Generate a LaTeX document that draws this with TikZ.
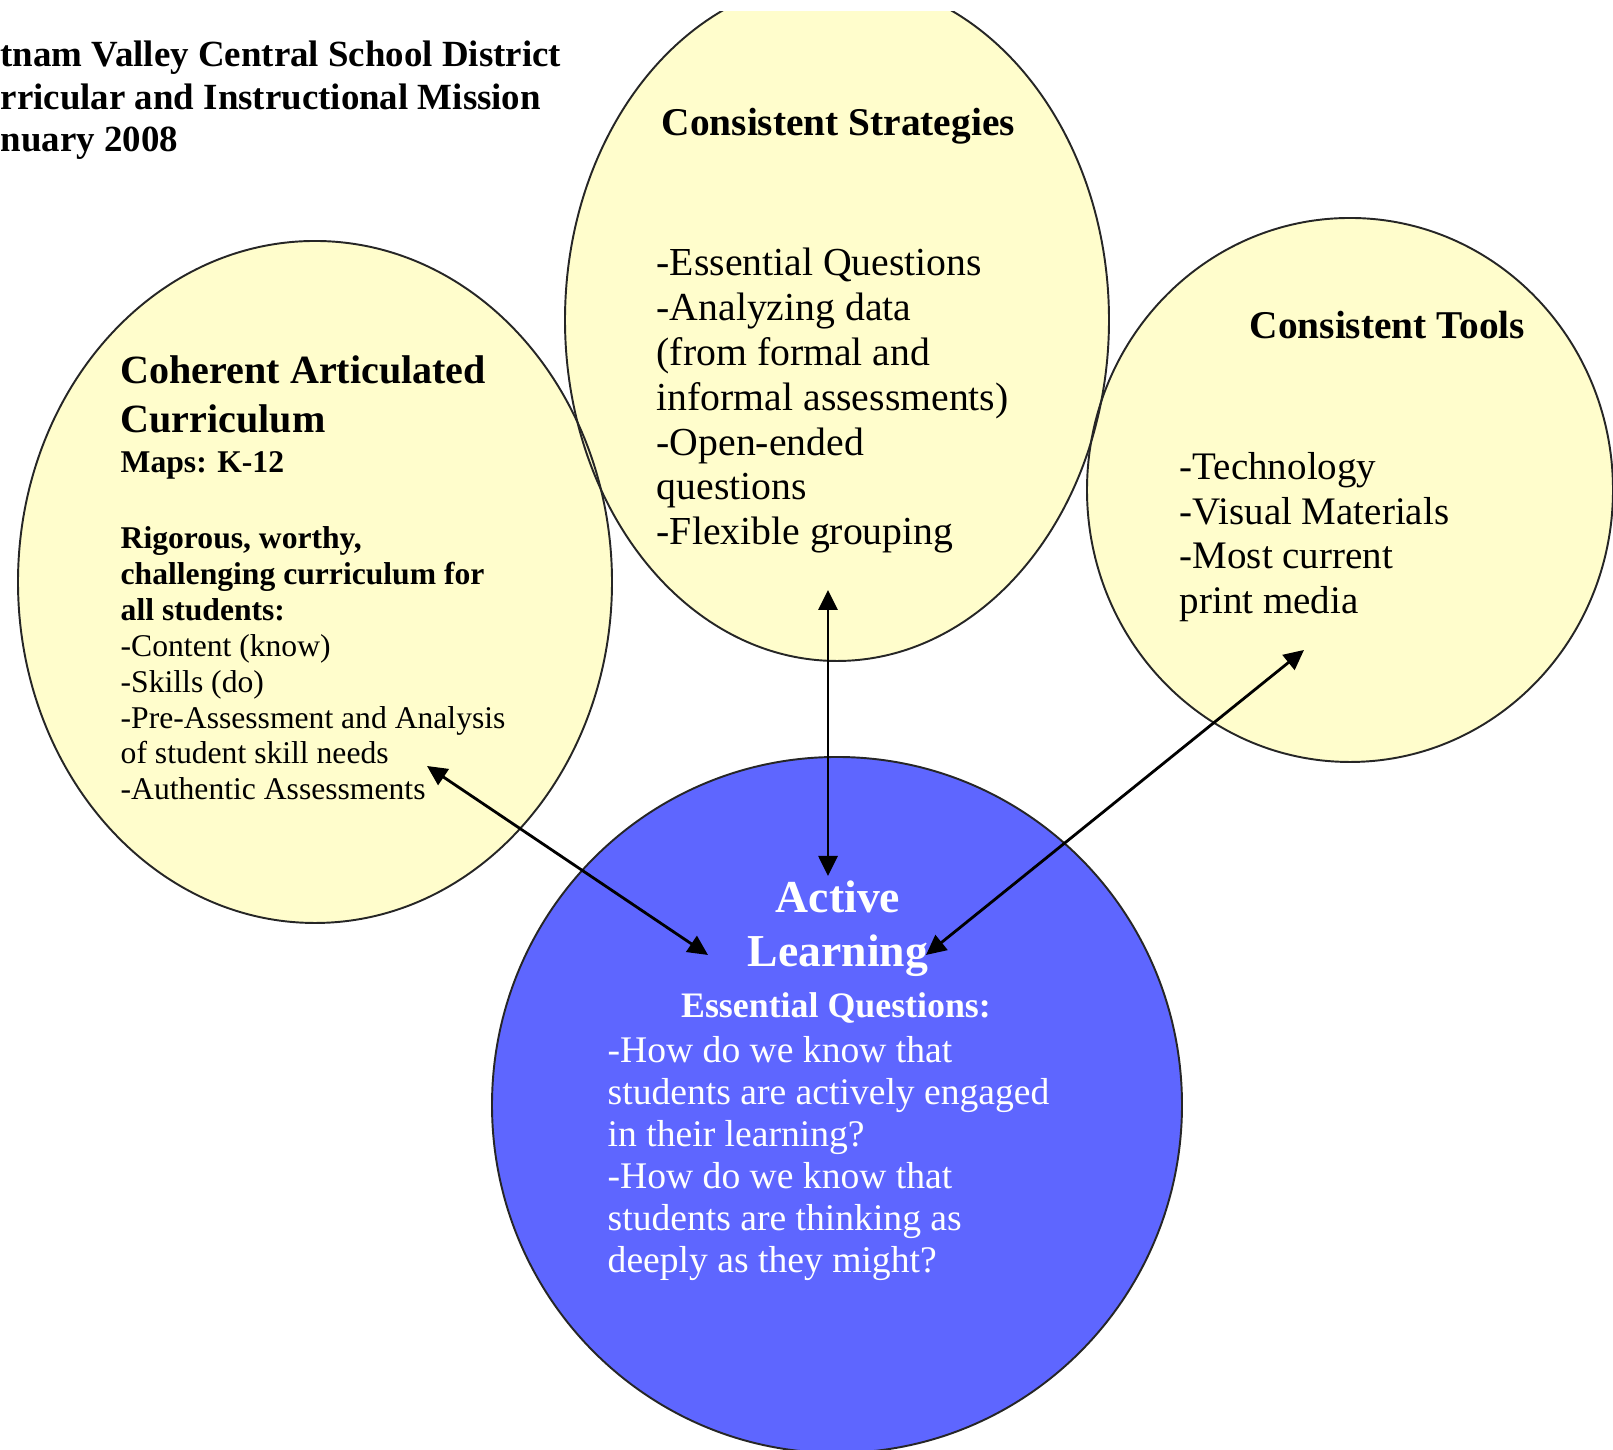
\documentclass[tikz,border=0pt]{standalone}
\usepackage{fontspec}
\setmainfont{Liberation Serif}
\usetikzlibrary{arrows.meta,shapes.geometric,calc}

\definecolor{paleyellow}{RGB}{255,253,204}
\definecolor{learnblue}{RGB}{94,102,255}

\begin{document}
\begin{tikzpicture}[
      bubble/.style={ellipse,inner sep=0pt,outer sep=0pt,fill=paleyellow},
      hub/.style={ellipse,inner sep=0pt,outer sep=0pt,fill=learnblue},
      rim/.style={line width=0.55pt,black!85},
      link/.style={line width=0.8pt,<->},
      % multi-line nodes sit on the baseline of their LAST line
      txt/.style={inner sep=0pt,align=left,anchor=base west},
      >={Triangle[length=2mm,width=1.9mm]}
  ]
  \useasboundingbox (0,0) rectangle (16.13,14.5);

  % ===================== bubbles =====================
  \begin{scope}
  \clip (0,0) rectangle (16.13,14.38);
  \node[bubble,minimum width=5.94cm,minimum height=6.82cm] (coh) at (3.15,8.68) {};
  \node[bubble,minimum width=5.44cm,minimum height=6.82cm] (strat) at (8.37,11.30) {};
  \node[bubble,minimum width=5.26cm,minimum height=5.44cm] (tools) at (13.50,9.60) {};
  \node[hub,minimum width=6.90cm,minimum height=6.96cm] (act) at (8.37,3.45) {};

  % rims drawn after the fills, so both rims show where bubbles overlap
  \foreach \b in {coh,strat,tools,act}
    \draw[rim] let \p1=($(\b.east)-(\b.center)$), \p2=($(\b.north)-(\b.center)$) in
      (\b.center) ellipse [x radius=\x1, y radius=\y2];
  \end{scope}

  % ===================== heading =====================
  \node[txt,font=\fontsize{10.5}{12.2}\selectfont\bfseries] (head) at (0,12.98)
      {tnam Valley Central School District\\rricular and Instructional Mission\\nuary 2008};

  % ===================== left: curriculum =====================
  \node[txt,font=\fontsize{11.4}{14}\selectfont\bfseries] (cohtitle) at (1.20,10.17)
      {Coherent Articulated\\Curriculum};
  \node[txt,font=\fontsize{9}{10.24}\selectfont\bfseries] (cohmaps) at (1.20,9.77) {Maps: K-12};
  \node[txt,font=\fontsize{9}{10.24}\selectfont] (cohbody) at (1.20,6.50)
      {\textbf{Rigorous, worthy,}\\\textbf{challenging curriculum for}\\\textbf{all students:}\\
       -Content (know)\\-Skills (do)\\-Pre-Assessment and Analysis\\of student skill needs\\
       -Authentic Assessments};

  % ===================== top: strategies =====================
  \node[txt,font=\fontsize{11.2}{12.8}\selectfont\bfseries] (strattitle) at (6.61,13.14)
      {Consistent Strategies};
  \node[txt,font=\fontsize{11.3}{12.8}\selectfont] (stratbody) at (6.56,9.05)
      {-Essential Questions\\-Analyzing data\\(from formal and\\informal assessments)\\
       -Open-ended\\questions\\-Flexible grouping};

  % ===================== right: tools =====================
  \node[txt,font=\fontsize{11.2}{12.8}\selectfont\bfseries] (toolstitle) at (12.49,11.11)
      {Consistent Tools};
  \node[txt,font=\fontsize{11.1}{12.8}\selectfont] (toolsbody) at (11.79,8.36)
      {-Technology\\-Visual Materials\\-Most current\\print media};

  % ===================== bottom: active learning =====================
  \node[inner sep=0pt,align=center,anchor=base,text=white,
        font=\fontsize{13}{15.4}\selectfont\bfseries] (acttitle) at (8.38,4.83)
      {Active\\Learning};
  \node[inner sep=0pt,anchor=base,text=white,
        font=\fontsize{10.2}{12}\selectfont\bfseries] (actsub) at (8.36,4.32)
      {Essential Questions:};
  \node[txt,text=white,font=\fontsize{10.7}{12}\selectfont] (actbody) at (6.07,1.77)
      {-How do we know that\\students are actively engaged\\in their learning?\\
       -How do we know that\\students are thinking as\\deeply as they might?};

  % ===================== links =====================
  \coordinate (cohtip) at (4.27,6.84);
  \coordinate (actleft) at (7.08,4.95);
  \coordinate (strattip) at (8.28,8.60);
  \coordinate (acttop) at (8.28,5.74);
  \coordinate (toolstip) at (13.04,8.00);
  \coordinate (actright) at (9.26,4.95);

  \draw[link] (cohtip) -- (actleft);
  \draw[link] (strattip) -- (acttop);
  \draw[link] (toolstip) -- (actright);

\end{tikzpicture}
\end{document}
